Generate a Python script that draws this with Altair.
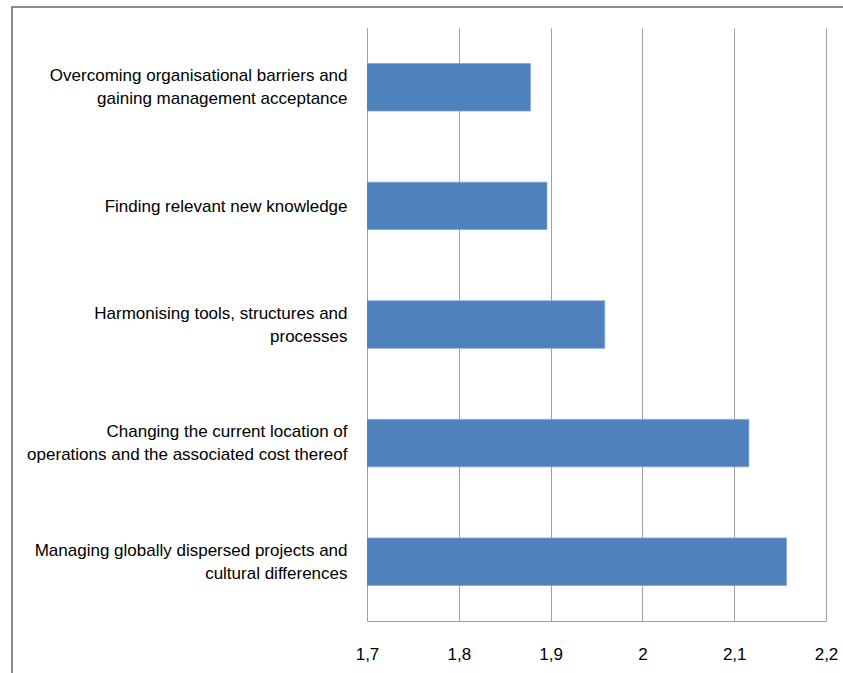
import altair as alt
import pandas as pd

categories = [
    "Overcoming organisational barriers and|gaining management acceptance",
    "Finding relevant new knowledge",
    "Harmonising tools, structures and|processes",
    "Changing the current location of|operations and the associated cost thereof",
    "Managing globally dispersed projects and|cultural differences",
]
values = [1.878, 1.896, 1.959, 2.116, 2.157]
x_ticks = [1.7, 1.8, 1.9, 2.0, 2.1, 2.2]

df = pd.DataFrame({"cat": categories, "val": values})

FONT = "Liberation Sans Narrow, Arial Narrow, Liberation Sans, Arial"

bars = alt.Chart(df).mark_bar(
    color="#4F81BD", stroke="#7FA3D0", strokeWidth=0.8, orient="horizontal", clip=True
).encode(
    y=alt.Y(
        "cat:N",
        sort=categories,
        scale=alt.Scale(paddingInner=0.6, paddingOuter=0.3),
        axis=alt.Axis(
            title=None,
            labelExpr="split(datum.label, '|')",
            labelFont=FONT,
            labelFontSize=17,
            labelColor="#000000",
            labelLineHeight=23,
            labelPadding=20,
            labelLimit=400,
            labelOffset={
                "condition": {"test": "indexof(datum.label, '|') >= 0", "value": -11},
                "value": 1,
            },
            ticks=False,
            domainColor="#A0A0A0",
            domainWidth=1,
        ),
    ),
    x=alt.X(
        "val:Q",
        scale=alt.Scale(domain=[1.7, 2.2], zero=False, nice=False),
        axis=alt.Axis(
            title=None,
            values=x_ticks,
            labelExpr="replace(format(datum.value, '.1~f'), '.', ',')",
            labelFont=FONT,
            labelFontSize=17,
            labelColor="#000000",
            labelPadding=25,
            labelFlush=False,
            ticks=False,
            grid=True,
            gridColor="#A0A0A0",
            gridWidth=1,
            domainColor="#A0A0A0",
            domainWidth=1,
        ),
    ),
)

frame_df = pd.DataFrame({"f": [1]})
frame = alt.Chart(frame_df).mark_rect(
    fill=None, stroke="#8C8C8C", strokeWidth=2
).encode(
    x=alt.value(-355), x2=alt.value(520), y=alt.value(-21), y2=alt.value(700)
)

chart = alt.layer(bars, frame).properties(
    width=459,
    height=593,
    autosize=alt.AutoSizeParams(type="none"),
    padding={"left": 367, "top": 28, "right": 17, "bottom": 52},
    background="white",
).configure_view(stroke=None)

chart.save("out.html", embed_options={"renderer": "svg", "actions": False})
